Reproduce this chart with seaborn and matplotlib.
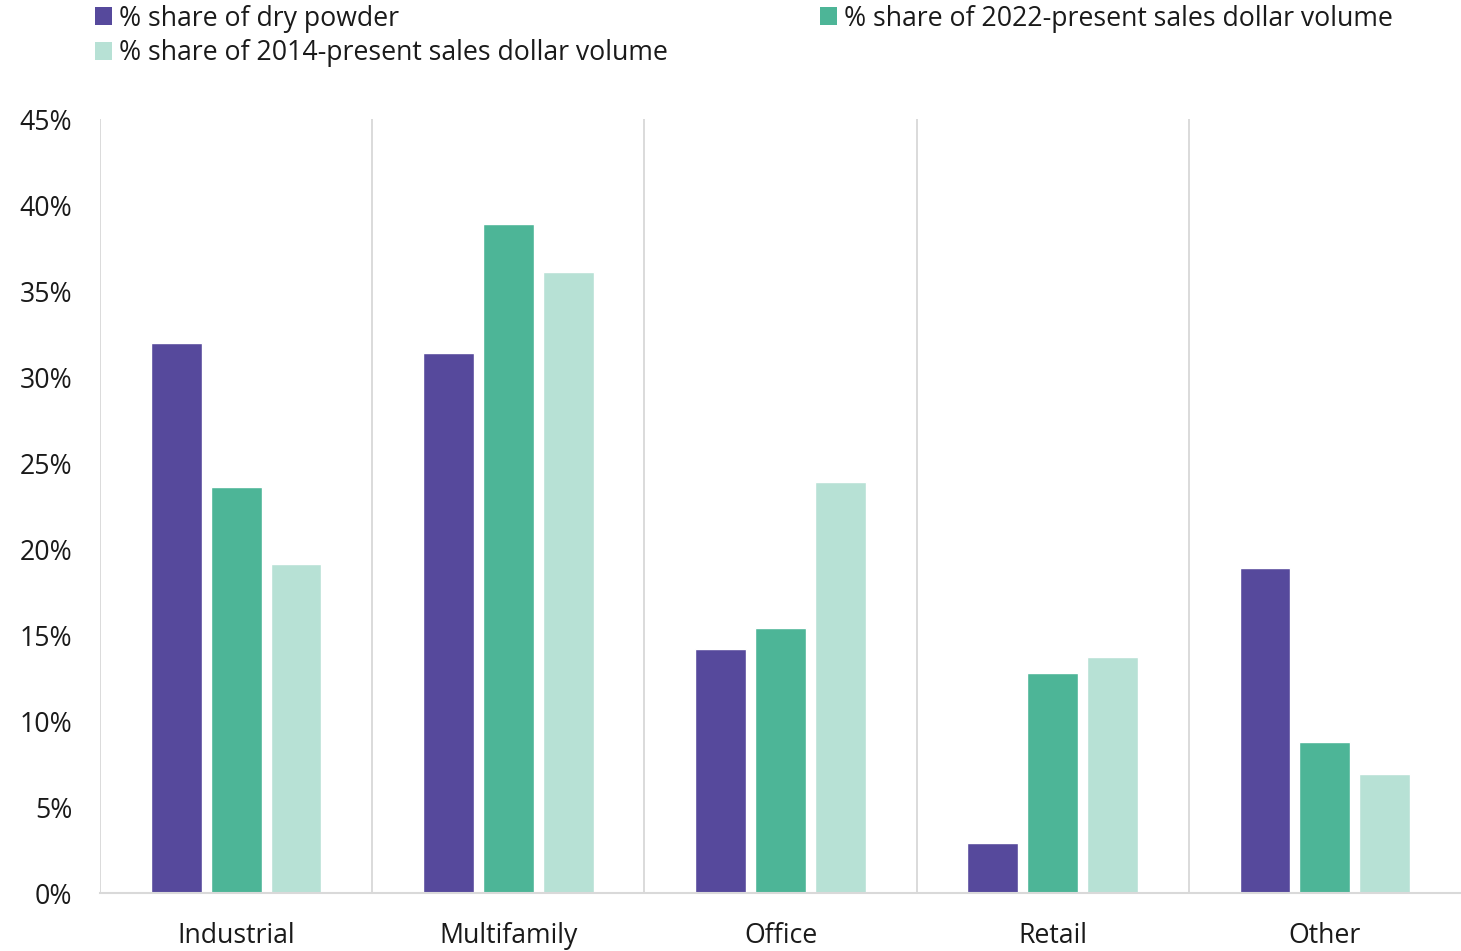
import matplotlib
matplotlib.use("Agg")
import matplotlib.pyplot as plt
import seaborn as sns
import pandas as pd
from matplotlib.patches import Patch

categories = ["Industrial", "Multifamily", "Office", "Retail", "Other"]
dry_powder = [32.0, 31.4, 14.2, 2.9, 18.9]
sales_2022 = [23.6, 38.9, 15.4, 12.8, 8.8]
sales_2014 = [19.1, 36.1, 23.9, 13.7, 6.9]
series_names = [
    "% share of dry powder",
    "% share of 2022-present sales dollar volume",
    "% share of 2014-present sales dollar volume",
]
colors = ["#56499C", "#4DB597", "#B7E1D5"]
y_ticks = [0, 5, 10, 15, 20, 25, 30, 35, 40, 45]

rows = []
for name, vals in zip(series_names, [dry_powder, sales_2022, sales_2014]):
    for cat, v in zip(categories, vals):
        rows.append({"category": cat, "series": name, "value": v})
df = pd.DataFrame(rows)

sns.set_theme(style="white")
plt.rcParams["font.family"] = ["Open Sans", "DejaVu Sans"]

fig = plt.figure(figsize=(14.61, 9.51), dpi=100)
ax = fig.add_axes([100 / 1461, 58 / 951, 1361 / 1461, 774 / 951])

sns.barplot(
    data=df, x="category", y="value", hue="series",
    order=categories, hue_order=series_names, palette=colors,
    width=0.66, gap=0.15, saturation=1, errorbar=None, legend=False, ax=ax,
)

ax.set_xlim(-0.5, len(categories) - 0.5)
ax.set_ylim(0, 45)
ax.set_yticks(y_ticks)
ax.set_yticklabels([f"{t}%" for t in y_ticks])
ax.set_xlabel("")
ax.set_ylabel("")

# Category separators
for x in [i - 0.5 for i in range(len(categories))]:
    ax.axvline(x, color="#D4D4D4", linewidth=1.2, zorder=0)

for side in ["top", "right", "left"]:
    ax.spines[side].set_visible(False)
ax.spines["bottom"].set_color("#D9D9D9")
ax.spines["bottom"].set_linewidth(1.5)

ax.tick_params(axis="both", length=0, labelsize=19.2, colors="#1A1A1A")
ax.tick_params(axis="y", pad=20)
ax.tick_params(axis="x", pad=21)

handles = [Patch(facecolor=colors[i], edgecolor="none") for i in (0, 2, 1)]
labels = [series_names[i] for i in (0, 2, 1)]
fig.legend(
    handles, labels, ncol=2, loc="upper left", bbox_to_anchor=(84 / 1461, 1.0 + 6 / 951),
    frameon=False, fontsize=19.2, handlelength=0.65, handleheight=0.65,
    handletextpad=0.25, columnspacing=5.7, labelspacing=0.25, borderaxespad=0,
    labelcolor="#1A1A1A",
)

fig.savefig("out.png", dpi=100)
